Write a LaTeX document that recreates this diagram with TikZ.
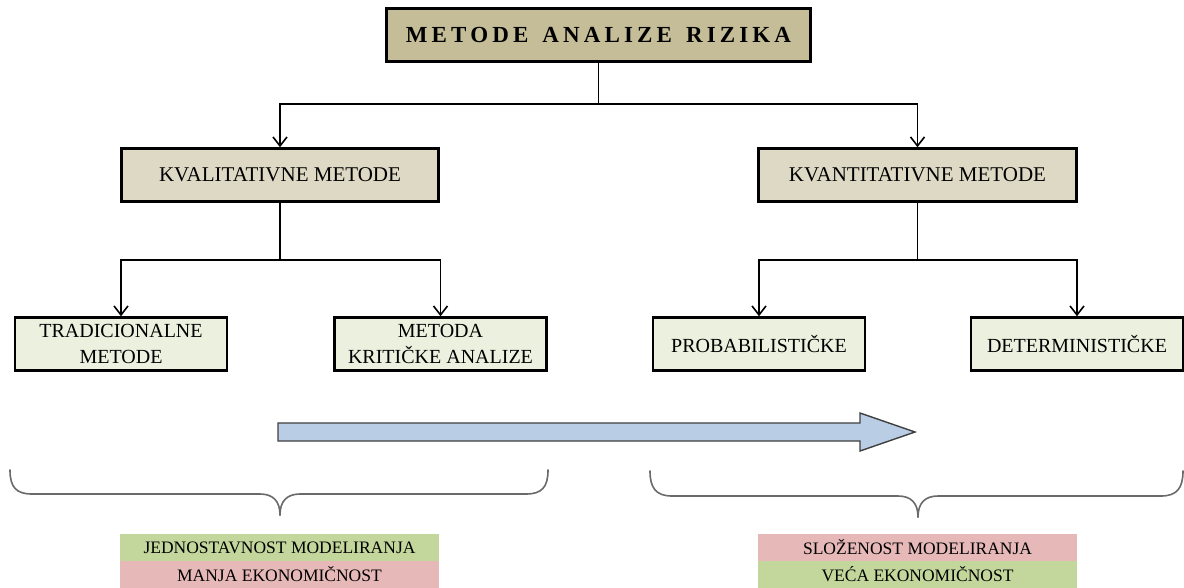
\documentclass[tikz,border=0pt]{standalone}
\usepackage{fontspec}
\setmainfont{Liberation Serif}
\newfontfamily\titlefont[LetterSpace=18]{Liberation Serif}
\usetikzlibrary{arrows.meta}
\definecolor{titlefill}{HTML}{C4BD97}
\definecolor{midfill}{HTML}{DDD9C4}
\definecolor{leaffill}{HTML}{EBF1DE}
\definecolor{arrowfill}{HTML}{B9CDE5}
\definecolor{arrowline}{HTML}{3F3F3F}
\definecolor{bracegray}{HTML}{6A6A6A}
\definecolor{bandgreen}{HTML}{C3D69B}
\definecolor{bandpink}{HTML}{E6B9B8}
\tikzset{
  titlebox/.style={draw=black, line width=3pt, fill=titlefill, minimum width=424pt, minimum height=53pt, inner sep=0pt, font=\titlefont\bfseries\fontsize{23}{27}\selectfont},
  midbox/.style={draw=black, line width=2.5pt, fill=midfill, minimum width=317pt, minimum height=53pt, inner sep=0pt, font=\fontsize{21}{24}\selectfont},
  leafbox/.style={draw=black, line width=2.5pt, fill=leaffill, minimum width=212pt, minimum height=53pt, inner sep=0pt, align=center, font=\fontsize{20}{26}\selectfont},
  band/.style={minimum width=319pt, minimum height=26.5pt, inner sep=0pt, font=\fontsize{17.5}{20}\selectfont},
  conn/.style={line width=1.6pt, draw=black},
  arr/.style={conn, -{Straight Barb[length=9pt, width=14pt]}},
  bracestyle/.style={draw=bracegray, line width=1.6pt, line cap=round}
}
\begin{document}
\begin{tikzpicture}[x=1pt, y=-1pt]
\useasboundingbox (0,0) rectangle (1184,587);

\node[titlebox] (top) at (598.5,35) {METODE\hspace{14pt}ANALIZE\hspace{14pt}RIZIKA};

\node[midbox] (kval) at (280,175) {KVALITATIVNE METODE};
\node[midbox, minimum width=318pt] (kvan) at (917.5,175) {KVANTITATIVNE METODE};

\node[leafbox] (trad) at (121,344) {TRADICIONALNE\\METODE};
\node[leafbox] (krit) at (440.5,344) {METODA\\KRITIČKE ANALIZE};
\node[leafbox] (prob) at (759,344) {PROBABILISTIČKE};
\node[leafbox] (det) at (1077,344) {DETERMINISTIČKE};

\coordinate (j1) at (598.5,104);
\coordinate (j2) at (280,260);
\coordinate (j3) at (917.5,260);

\draw[conn] (top.south) -- (j1);
\draw[arr] (j1) -| (kval.north);
\draw[arr] (j1) -| (kvan.north);

\draw[conn] (kval.south) -- (j2);
\draw[arr] (j2) -| (trad.north);
\draw[arr] (j2) -| (krit.north);

\draw[conn] (kvan.south) -- (j3);
\draw[arr] (j3) -| (prob.north);
\draw[arr] (j3) -| (det.north);

% big arrow
\draw[fill=arrowfill, draw=arrowline, line width=1.4pt, line join=miter]
  (278,423) -- (860,423) -- (860,413) -- (915,432) -- (860,451) -- (860,441) -- (278,441) -- cycle;

% braces
\draw[bracestyle] (10,470) .. controls (10,487) and (16,494) .. (32,494) -- (260,494)
  .. controls (273,494) and (280,501) .. (280,515);
\draw[bracestyle] (280,515) .. controls (280,501) and (287,494) .. (300,494) -- (526,494)
  .. controls (542,494) and (548,487) .. (548,470);
\draw[bracestyle] (650,471) .. controls (650,488) and (656,496) .. (672,496) -- (898,496)
  .. controls (911,496) and (918,503) .. (918,517);
\draw[bracestyle] (918,517) .. controls (918,503) and (925,496) .. (938,496) -- (1161,496)
  .. controls (1177,496) and (1183,488) .. (1183,471);

% bands
\node[band, fill=bandgreen] (lg) at (279.5,547.5) {JEDNOSTAVNOST MODELIRANJA};
\node[band, fill=bandpink, anchor=north] (lp) at (lg.south) {MANJA EKONOMIČNOST};
\node[band, fill=bandpink] (rp) at (917.5,547.5) {SLOŽENOST MODELIRANJA};
\node[band, fill=bandgreen, anchor=north] (rg) at (rp.south) {VEĆA EKONOMIČNOST};
\end{tikzpicture}
\end{document}
